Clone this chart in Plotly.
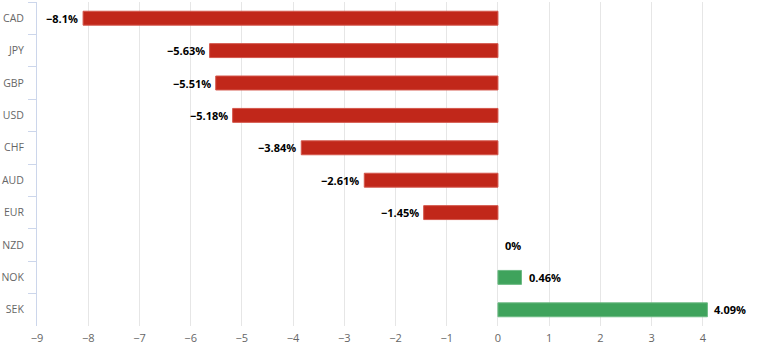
import plotly.graph_objects as go

currencies = ["CAD", "JPY", "GBP", "USD", "CHF", "AUD", "EUR", "NZD", "NOK", "SEK"]
changes = [-8.1, -5.63, -5.51, -5.18, -3.84, -2.61, -1.45, 0, 0.46, 4.09]
x_ticks = list(range(-9, 5))

RED = "#C1271A"
GREEN = "#3FA35C"
colors = [RED if v < 0 else GREEN for v in changes]
edge = ["#D4564B" if v < 0 else "#6DBA84" for v in changes]
edge_w = [0 if v == 0 else 1 for v in changes]

def fmt(v):
    return (f"{v:g}" + "%").replace("-", "\u2212")

FONT = "Open Sans"

fig = go.Figure()
fig.add_trace(go.Bar(
    x=changes, y=currencies, orientation="h",
    marker=dict(color=colors, line=dict(color=edge, width=edge_w)),
    width=0.43,
    hoverinfo="skip",
))

for c, v in zip(currencies, changes):
    fig.add_annotation(
        x=v, y=c, xref="x", yref="y",
        text="<b>" + fmt(v) + "</b>",
        showarrow=False,
        xanchor="right" if v < 0 else "left",
        xshift=-3 if v < 0 else 5,
        font=dict(family=FONT, size=11, color="#000000"),
    )

fig.update_layout(
    width=763, height=350,
    margin=dict(l=37, r=10, t=2, b=24),
    paper_bgcolor="white", plot_bgcolor="white",
    showlegend=False,
    font=dict(family=FONT, size=11, color="#666666"),
    bargap=0.5,
)
fig.update_xaxes(
    range=[-9, 4.98],
    tickvals=x_ticks,
    showgrid=True, gridcolor="#e6e6e6", gridwidth=1,
    zeroline=False, showline=False,
    ticks="", tickfont=dict(family=FONT, size=11, color="#666666"),
    ticklabelstandoff=4,
    automargin=False,
    fixedrange=True,
)
fig.update_yaxes(
    categoryorder="array", categoryarray=currencies,
    autorange="reversed",
    showgrid=False, zeroline=False,
    showline=True, linecolor="#ccd6eb", linewidth=1,
    ticks="outside", tickson="boundaries", ticklen=8, tickcolor="#ccd6eb",
    tickfont=dict(family=FONT, size=10.5, color="#666666"),
    ticklabelstandoff=10,
    automargin=False,
    fixedrange=True,
)

fig.write_html("out.html")
